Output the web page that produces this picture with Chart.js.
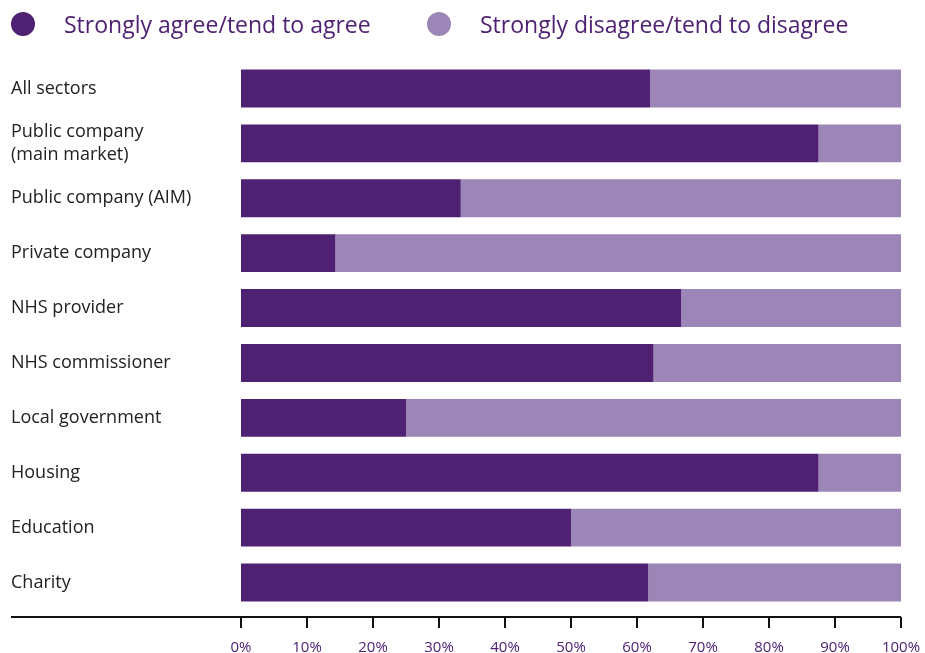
<!DOCTYPE html>
<html>
<head>
<meta charset="utf-8">
<script src="https://cdn.jsdelivr.net/npm/chart.js@4/dist/chart.umd.min.js"></script>
<style>
  html, body { margin: 0; padding: 0; background: #fff; }
  #wrap { position: relative; width: 925px; height: 653px; }
  #chart { position: absolute; left: 0; top: 0; }
  #legend { position: absolute; left: 0; top: 0; height: 48px; width: 925px; font-family: "Open Sans", sans-serif; }
  .item { position: absolute; top: 0; height: 48px; display: flex; align-items: center; }
  .dot { width: 24px; height: 24px; border-radius: 50%; margin-right: 29px; }
  .txt { font-size: 23px; color: #4f2173; white-space: nowrap; }
</style>
</head>
<body>
<div id="wrap">
  <canvas id="chart" width="925" height="653"></canvas>
  <div id="legend"></div>
</div>
<script>
'use strict';

// ── Data ───────────────────────────────────────────────────────────────────
const SECTORS = [
  'All sectors',
  ['Public company', '(main market)'],
  'Public company (AIM)',
  'Private company',
  'NHS provider',
  'NHS commissioner',
  'Local government',
  'Housing',
  'Education',
  'Charity',
];
const AGREE    = [62.0, 87.5, 33.3, 14.3, 66.7, 62.5, 25.0, 87.5, 50.0, 61.7];
const DISAGREE = [38.0, 12.5, 66.7, 85.7, 33.3, 37.5, 75.0, 12.5, 50.0, 38.3];
const SERIES   = ['Strongly agree/tend to agree', 'Strongly disagree/tend to disagree'];
const X_TICKS  = [0, 10, 20, 30, 40, 50, 60, 70, 80, 90, 100];

const DARK  = '#4f2173';
const LIGHT = '#9c86b7';
const FONT  = '"Open Sans", sans-serif';

// ── Baseline + tick marks under the bars ───────────────────────────────────
const baseline = {
  id: 'baseline',
  afterDraw(chart) {
    const { ctx, chartArea, scales } = chart;
    const y = Math.round(chartArea.bottom) + 7;
    ctx.save();
    ctx.strokeStyle = '#111';
    ctx.lineWidth = 2;
    ctx.beginPath();
    ctx.moveTo(11, y);
    ctx.lineTo(chartArea.right, y);
    X_TICKS.forEach(v => {
      const x = Math.round(scales.x.getPixelForValue(v));
      ctx.moveTo(x, y);
      ctx.lineTo(x, y + 11);
    });
    ctx.stroke();
    ctx.restore();
  },
};

// ── Chart ──────────────────────────────────────────────────────────────────
new Chart(document.getElementById('chart'), {
  type: 'bar',
  data: {
    labels: SECTORS,
    datasets: [
      { label: SERIES[0], data: AGREE,    backgroundColor: DARK },
      { label: SERIES[1], data: DISAGREE, backgroundColor: LIGHT },
    ],
  },
  options: {
    indexAxis: 'y',
    responsive: false,
    animation: false,
    layout: { padding: { top: 61, left: 11, right: 24, bottom: 0 } },
    datasets: { bar: { categoryPercentage: 1, barPercentage: 0.69, borderWidth: 0 } },
    plugins: { legend: { display: false }, tooltip: { enabled: false } },
    scales: {
      x: {
        stacked: true,
        min: 0, max: 100,
        afterBuildTicks: s => { s.ticks = X_TICKS.map(v => ({ value: v })); },
        afterFit: s => { s.height = 43; s.paddingLeft = 0; s.paddingRight = 0; },
        grid: { display: false, drawTicks: false },
        border: { display: false },
        ticks: {
          color: DARK,
          padding: 29,
          font: { family: FONT, size: 15 },
          maxRotation: 0,
          callback: v => v + '%',
        },
      },
      y: {
        stacked: true,
        afterFit: s => { s.width = 230; },
        grid: { display: false, drawTicks: false },
        border: { display: false },
        ticks: {
          color: '#222',
          crossAlign: 'far',
          padding: 0,
          font: { family: FONT, size: 18, lineHeight: 1.25 },
        },
      },
    },
  },
  plugins: [baseline],
});

// ── Legend ─────────────────────────────────────────────────────────────────
const legendX = [11, 427];
document.getElementById('legend').innerHTML = SERIES.map((s, i) => `
  <div class="item" style="left:${legendX[i]}px">
    <span class="dot" style="background:${i ? LIGHT : DARK}"></span>
    <span class="txt">${s}</span>
  </div>`).join('');
</script>
</body>
</html>
